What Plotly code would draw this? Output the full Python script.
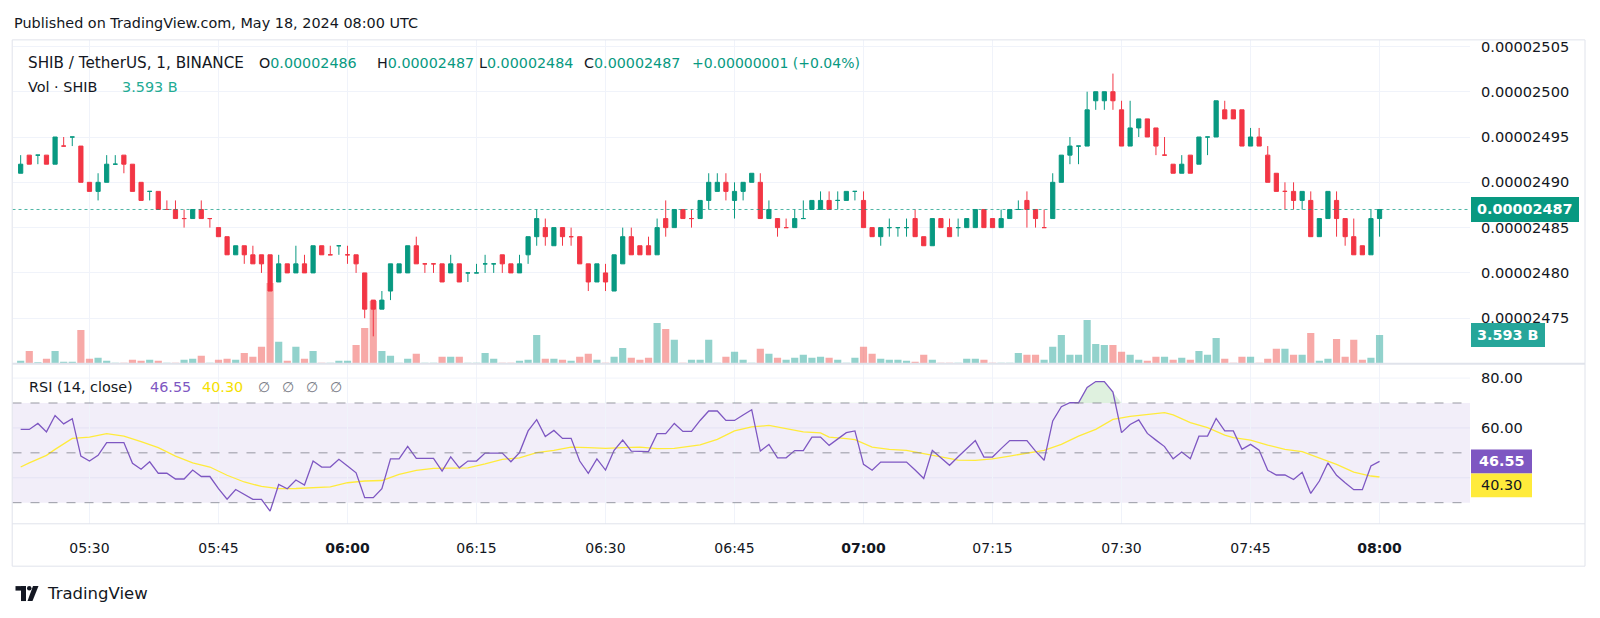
import pandas as pd
import plotly.graph_objects as go

# ---------------- data (prices in units of 1e-8 USDT) ----------------
start_time = "2024-05-18 05:22"

open_ = [2491, 2493, 2493, 2493, 2492, 2494, 2495, 2494, 2490, 2489,
         2490, 2492, 2493, 2492, 2490, 2489, 2489, 2487, 2487, 2486,
         2486, 2487, 2486, 2485, 2484, 2482, 2483, 2482, 2482, 2482,
         2479, 2481, 2480, 2481, 2480, 2483, 2482, 2483, 2482, 2482,
         2480, 2477, 2476, 2478, 2480, 2480, 2483, 2481, 2481, 2481,
         2480, 2481, 2480, 2480, 2481, 2481, 2482, 2481, 2480, 2482,
         2484, 2485, 2483, 2485, 2484, 2484, 2481, 2479, 2480, 2478,
         2481, 2484, 2483, 2483, 2482, 2486, 2485, 2487, 2486, 2486,
         2488, 2489, 2490, 2488, 2489, 2490, 2490, 2486, 2486, 2485,
         2485, 2486, 2487, 2487, 2488, 2488, 2488, 2489, 2488, 2485,
         2484, 2485, 2485, 2485, 2486, 2484, 2483, 2486, 2485, 2485,
         2485, 2485, 2487, 2486, 2485, 2486, 2487, 2488, 2487, 2485,
         2486, 2490, 2493, 2494, 2494, 2499, 2499, 2500, 2498, 2494,
         2496, 2497, 2496, 2493, 2492, 2491, 2493, 2492, 2495, 2495,
         2498, 2498, 2498, 2494, 2495, 2493, 2491, 2489, 2489, 2488,
         2488, 2484, 2486, 2488, 2486, 2484, 2483, 2482, 2486]

high = [2493, 2493, 2493, 2493, 2495, 2495, 2495, 2494, 2490, 2491,
        2493, 2493, 2493, 2492, 2490, 2489, 2489, 2488, 2488, 2487,
        2487, 2488, 2486, 2485, 2484, 2483, 2483, 2483, 2482, 2482,
        2482, 2481, 2483, 2482, 2483, 2483, 2483, 2483, 2483, 2482,
        2480, 2477, 2478, 2481, 2481, 2483, 2484, 2481, 2481, 2481,
        2482, 2481, 2480, 2481, 2482, 2481, 2482, 2481, 2482, 2484,
        2487, 2486, 2485, 2485, 2485, 2484, 2481, 2481, 2481, 2482,
        2485, 2485, 2483, 2484, 2486, 2488, 2487, 2487, 2487, 2488,
        2491, 2491, 2491, 2490, 2490, 2491, 2491, 2488, 2486, 2486,
        2487, 2488, 2488, 2489, 2489, 2489, 2489, 2489, 2489, 2485,
        2485, 2486, 2485, 2486, 2487, 2484, 2486, 2486, 2486, 2486,
        2486, 2487, 2487, 2486, 2487, 2487, 2488, 2489, 2487, 2487,
        2491, 2493, 2495, 2494, 2500, 2500, 2500, 2502, 2499, 2499,
        2497, 2497, 2496, 2495, 2492, 2493, 2493, 2495, 2495, 2499,
        2499, 2498, 2498, 2496, 2496, 2494, 2491, 2490, 2490, 2489,
        2489, 2486, 2489, 2489, 2486, 2486, 2483, 2487, 2487]

low = [2491, 2492, 2492, 2492, 2492, 2494, 2494, 2490, 2489, 2488,
       2490, 2492, 2491, 2489, 2488, 2488, 2487, 2487, 2486, 2485,
       2486, 2486, 2485, 2484, 2482, 2482, 2481, 2481, 2480, 2478,
       2479, 2480, 2480, 2480, 2480, 2482, 2482, 2482, 2481, 2480,
       2475, 2473, 2476, 2477, 2480, 2480, 2481, 2480, 2480, 2479,
       2480, 2479, 2479, 2480, 2480, 2480, 2480, 2480, 2480, 2481,
       2483, 2483, 2483, 2483, 2483, 2481, 2478, 2479, 2478, 2478,
       2481, 2482, 2482, 2482, 2482, 2484, 2485, 2486, 2485, 2486,
       2487, 2489, 2488, 2486, 2488, 2490, 2486, 2486, 2484, 2485,
       2485, 2486, 2487, 2487, 2487, 2487, 2488, 2488, 2485, 2484,
       2483, 2484, 2484, 2484, 2484, 2483, 2483, 2485, 2484, 2484,
       2485, 2485, 2485, 2485, 2485, 2486, 2487, 2485, 2485, 2485,
       2486, 2490, 2492, 2492, 2494, 2498, 2498, 2498, 2494, 2494,
       2495, 2495, 2493, 2493, 2491, 2491, 2491, 2492, 2493, 2495,
       2497, 2497, 2494, 2494, 2494, 2490, 2489, 2487, 2487, 2487,
       2484, 2484, 2486, 2484, 2483, 2482, 2482, 2482, 2484]

close = [2492, 2492, 2493, 2492, 2495, 2494, 2495, 2490, 2489, 2490,
         2492, 2492, 2492, 2489, 2488, 2489, 2487, 2487, 2486, 2486,
         2487, 2486, 2486, 2484, 2482, 2483, 2482, 2481, 2481, 2478,
         2481, 2480, 2481, 2480, 2483, 2482, 2482, 2483, 2482, 2481,
         2476, 2476, 2477, 2481, 2481, 2483, 2481, 2481, 2481, 2479,
         2481, 2479, 2480, 2480, 2481, 2481, 2481, 2480, 2481, 2484,
         2486, 2484, 2485, 2484, 2484, 2481, 2479, 2481, 2479, 2482,
         2484, 2482, 2482, 2482, 2485, 2485, 2487, 2486, 2486, 2488,
         2490, 2490, 2489, 2489, 2490, 2491, 2486, 2487, 2485, 2485,
         2486, 2486, 2488, 2488, 2487, 2488, 2489, 2489, 2485, 2484,
         2485, 2485, 2485, 2485, 2484, 2483, 2486, 2485, 2484, 2485,
         2486, 2487, 2485, 2485, 2486, 2487, 2487, 2487, 2486, 2485,
         2490, 2493, 2494, 2494, 2498, 2500, 2500, 2499, 2494, 2496,
         2497, 2495, 2494, 2493, 2491, 2492, 2491, 2495, 2495, 2499,
         2497, 2497, 2494, 2495, 2494, 2490, 2489, 2489, 2488, 2489,
         2484, 2486, 2489, 2486, 2484, 2482, 2482, 2486, 2487]

# volume in billions of SHIB
volume_b = [0.37, 1.61, 0.19, 0.62, 1.61, 0.25, 0.25, 4.21, 0.62, 0.74,
            0.37, 0.12, 0.12, 0.50, 0.37, 0.50, 0.37, 0.12, 0.12, 0.50,
            0.62, 0.99, 0.12, 0.50, 0.62, 0.50, 1.36, 0.87, 2.11, 10.04,
            2.73, 0.37, 2.11, 0.62, 1.61, 0.12, 0.12, 0.37, 0.37, 2.35,
            4.46, 7.81, 1.61, 0.99, 0.12, 0.62, 1.24, 0.12, 0.12, 0.87,
            0.87, 0.87, 0.12, 0.12, 1.36, 0.62, 0.12, 0.12, 0.37, 0.50,
            3.59, 0.62, 0.62, 0.50, 0.37, 0.87, 1.24, 0.50, 0.12, 0.87,
            1.98, 0.74, 0.50, 0.74, 5.08, 4.34, 2.98, 0.12, 0.50, 0.50,
            2.98, 0.12, 0.87, 1.49, 0.50, 0.12, 1.86, 1.24, 0.74, 0.50,
            0.74, 1.12, 0.74, 0.87, 0.74, 0.50, 0.12, 0.74, 2.11, 1.24,
            0.62, 0.50, 0.50, 0.37, 0.25, 1.12, 0.50, 0.12, 0.12, 0.12,
            0.62, 0.62, 0.50, 0.12, 0.12, 0.12, 1.36, 1.12, 1.12, 0.50,
            2.11, 3.59, 1.12, 1.12, 5.45, 2.48, 2.35, 2.35, 1.49, 1.12,
            0.50, 0.37, 0.87, 0.87, 0.50, 0.74, 0.50, 1.61, 1.12, 3.22,
            0.62, 0.12, 0.87, 0.87, 0.12, 0.62, 1.86, 1.86, 1.12, 1.12,
            3.84, 0.37, 0.62, 3.10, 0.87, 2.98, 0.50, 0.74, 3.593]

rsi = [59.4, 59.4, 61.8, 58.4, 65.0, 61.6, 63.7, 48.7, 46.7, 49.0,
       54.1, 54.1, 54.1, 45.8, 43.4, 46.4, 41.8, 41.8, 39.5, 39.5,
       43.1, 40.5, 40.5, 35.6, 31.4, 35.3, 33.3, 31.3, 31.3, 26.6,
       37.3, 35.6, 39.1, 37.1, 46.7, 44.3, 44.3, 47.4, 44.7, 42.0,
       32.0, 32.0, 35.6, 47.6, 47.6, 52.6, 47.8, 47.8, 47.8, 42.7,
       48.4, 44.0, 46.7, 46.7, 49.9, 49.9, 49.9, 46.4, 50.1, 58.8,
       63.3, 56.5, 59.0, 55.8, 55.8, 46.7, 41.8, 47.6, 43.1, 51.0,
       55.1, 50.7, 50.5, 50.5, 57.7, 57.7, 61.8, 58.6, 58.6, 63.0,
       66.8, 66.8, 63.0, 63.0, 65.2, 67.3, 50.7, 53.4, 48.0, 48.0,
       50.9, 50.9, 56.3, 56.3, 53.0, 55.4, 58.1, 58.8, 45.4, 43.0,
       46.3, 46.3, 46.3, 46.3, 43.1, 39.7, 51.0, 47.8, 45.0, 48.4,
       51.7, 54.9, 48.3, 48.3, 51.7, 54.9, 54.9, 54.9, 50.7, 47.0,
       62.8, 68.5, 70.1, 70.1, 76.2, 78.6, 78.6, 74.4, 58.1, 61.4,
       63.2, 57.8, 55.1, 52.5, 47.6, 50.3, 47.6, 56.7, 56.7, 63.8,
       58.8, 58.8, 51.4, 53.4, 51.1, 43.0, 41.1, 41.1, 39.3, 42.2,
       33.7, 38.7, 46.0, 41.0, 38.0, 35.2, 35.2, 44.7, 46.55]

ma_times = ["05:22", "05:23", "05:25", "05:26", "05:28", "05:30", "05:32", "05:34",
            "05:36", "05:38", "05:40", "05:42", "05:44", "05:46", "05:48", "05:50",
            "05:52", "05:54", "05:58", "06:00", "06:02", "06:04", "06:06", "06:08",
            "06:10", "06:12", "06:14", "06:16", "06:18", "06:20", "06:22", "06:24",
            "06:26", "06:28", "06:30", "06:32", "06:34", "06:36", "06:38", "06:41",
            "06:43", "06:45", "06:47", "06:49", "06:51", "06:53", "06:55", "06:56",
            "06:58", "06:59", "07:01", "07:03", "07:05", "07:07", "07:09", "07:11",
            "07:13", "07:15", "07:17", "07:19", "07:21", "07:23", "07:25", "07:27",
            "07:29", "07:31", "07:33", "07:35", "07:36", "07:38", "07:40", "07:42",
            "07:43", "07:45", "07:47", "07:49", "07:51", "07:53", "07:55", "07:57",
            "07:59", "08:00"]
ma_vals = [44.3, 46.0, 49.0, 51.4, 55.8, 56.3, 57.7, 56.7,
           54.5, 52.1, 48.7, 46.0, 44.3, 41.0, 38.3, 36.5,
           35.6, 35.7, 36.3, 38.0, 38.7, 38.9, 41.4, 43.0,
           43.8, 43.8, 44.0, 45.6, 47.4, 48.0, 50.1, 51.0,
           52.3, 52.1, 51.8, 52.1, 52.3, 51.7, 51.8, 53.2,
           55.4, 58.8, 60.4, 61.0, 59.7, 58.4, 58.0, 56.3,
           55.7, 55.3, 52.3, 51.4, 51.0, 49.8, 48.4, 47.1,
           47.0, 47.6, 48.7, 49.9, 51.0, 53.4, 56.7, 59.4,
           63.4, 64.6, 65.4, 66.1, 65.2, 62.1, 60.1, 57.1,
           56.1, 55.1, 53.1, 51.4, 50.5, 48.0, 45.4, 42.3,
           40.7, 40.30]

time_ticks = ["05:30", "05:45", "06:00", "06:15", "06:30", "06:45",
              "07:00", "07:15", "07:30", "07:45", "08:00"]
price_ticks = ["0.00002475", "0.00002480", "0.00002485", "0.00002490",
               "0.00002495", "0.00002500", "0.00002505"]
rsi_ticks = ["60.00", "80.00"]
rsi_grid = [40, 60, 80]

# ---------------- styling / layout helpers ----------------
W, H = 1600, 618
GREEN = "#089981"
RED = "#F23645"
PURPLE = "#7E57C2"
YELLOW = "#FFEB3B"
TEXT = "#131722"
GRID = "#F0F3FA"
BORDER = "#E0E3EB"
FONT = "DejaVu Sans"

def px(x):
    return x / W

def py(y):
    return 1 - y / H

X0, X1 = 12.5, 1470
PRICE_TOP, PRICE_BOT = 38, 363
RSI_TOP, RSI_BOT = 363, 523.5
PX_PER_TICK = 9.09          # pixels per 1e-8 price step
RSI_PX = 2.5                # pixels per RSI unit

day = "2024-05-18 "
times = pd.date_range(start_time, periods=len(close), freq="min")
p = lambda v: v * 1e-8
O = [p(v) for v in open_]
Hh = [p(v) for v in high]
L = [p(v) for v in low]
C = [p(v) for v in close]

x_left = times[0] - pd.Timedelta(seconds=57)
x_right = times[-1] + pd.Timedelta(seconds=631)
tick_x = [pd.Timestamp(day + t) for t in time_ticks]
tick_txt = [("<b>%s</b>" % t) if t.endswith(":00") else t for t in time_ticks]

price_lo = 2500 - (PRICE_BOT - 90) / PX_PER_TICK
price_hi = 2500 + (90 - PRICE_TOP) / PX_PER_TICK
vol_hi = (PRICE_BOT - PRICE_TOP) * 0.1239
rsi_lo = 80 - (RSI_BOT - 377.3) / RSI_PX
rsi_hi = 80 + (377.3 - RSI_TOP) / RSI_PX

vol_colors = ["rgba(38,166,154,0.5)" if c >= o else "rgba(239,83,80,0.5)"
              for o, c in zip(open_, close)]

fig = go.Figure()

fig.add_trace(go.Bar(x=times, y=volume_b, marker=dict(color=vol_colors, line=dict(width=0)),
                     width=50000, xaxis="x", yaxis="y", showlegend=False, hoverinfo="skip"))

fig.add_trace(go.Candlestick(
    x=times, open=O, high=Hh, low=L, close=C, xaxis="x", yaxis="y2",
    increasing=dict(line=dict(color=GREEN, width=1), fillcolor=GREEN),
    decreasing=dict(line=dict(color=RED, width=1), fillcolor=RED),
    whiskerwidth=0, showlegend=False, hoverinfo="skip"))

# RSI overbought fill
fig.add_trace(go.Scatter(x=times, y=[70] * len(rsi), mode="lines", line=dict(width=0),
                         xaxis="x2", yaxis="y3", showlegend=False, hoverinfo="skip"))
fig.add_trace(go.Scatter(x=times, y=[max(v, 70) for v in rsi], mode="lines", line=dict(width=0),
                         fill="tonexty", fillcolor="rgba(76,175,80,0.18)",
                         xaxis="x2", yaxis="y3", showlegend=False, hoverinfo="skip"))

fig.add_trace(go.Scatter(x=[pd.Timestamp(day + t) for t in ma_times], y=ma_vals, mode="lines",
                         line=dict(color=YELLOW, width=1.3), xaxis="x2", yaxis="y3",
                         showlegend=False, hoverinfo="skip"))
fig.add_trace(go.Scatter(x=times, y=rsi, mode="lines", line=dict(color=PURPLE, width=1.3),
                         xaxis="x2", yaxis="y3", showlegend=False, hoverinfo="skip"))

axis_common = dict(showline=False, zeroline=False, ticks="", fixedrange=True)

fig.update_layout(
    width=W, height=H, autosize=False,
    margin=dict(l=0, r=0, t=0, b=0),
    paper_bgcolor="white", plot_bgcolor="rgba(0,0,0,0)",
    font=dict(family=FONT, color=TEXT, size=13),
    showlegend=False,
    xaxis=dict(domain=[px(X0), px(X1)], anchor="y", type="date", range=[x_left, x_right],
               tickmode="array", tickvals=tick_x, showticklabels=False,
               showgrid=True, gridcolor=GRID, gridwidth=1,
               rangeslider=dict(visible=False), **axis_common),
    xaxis2=dict(domain=[px(X0), px(X1)], anchor="y3", type="date", range=[x_left, x_right],
                matches="x", tickmode="array", tickvals=tick_x, ticktext=tick_txt,
                tickfont=dict(size=14, color=TEXT, family=FONT), ticklabelstandoff=14,
                showgrid=True, gridcolor=GRID, gridwidth=1, **axis_common),
    yaxis=dict(domain=[py(PRICE_BOT), py(PRICE_TOP)], anchor="x", range=[0, vol_hi],
               visible=False, showgrid=False, **axis_common),
    yaxis2=dict(overlaying="y", anchor="x", side="right", range=[p(price_lo), p(price_hi)],
                tickmode="array", tickvals=[float(s) for s in price_ticks], ticktext=price_ticks,
                tickfont=dict(size=14.6, color=TEXT, family=FONT), ticklabelstandoff=10,
                showgrid=True, gridcolor=GRID, gridwidth=1, **axis_common),
    yaxis3=dict(domain=[py(RSI_BOT), py(RSI_TOP)], anchor="x2", side="right",
                range=[rsi_lo, rsi_hi], tickmode="array",
                tickvals=[float(s) for s in rsi_ticks], ticktext=rsi_ticks,
                tickfont=dict(size=14.6, color=TEXT, family=FONT), ticklabelstandoff=10,
                showgrid=False, **axis_common),
)

shapes = []
# RSI grid
for gv in rsi_grid:
    shapes.append(dict(type="line", xref="paper", yref="y3", x0=px(X0), x1=px(X1), y0=gv, y1=gv,
                       line=dict(color=GRID, width=1), layer="below"))
# RSI band and levels
shapes.append(dict(type="rect", xref="paper", yref="y3", x0=px(X0), x1=px(X1), y0=30, y1=70,
                   fillcolor="rgba(126,87,194,0.10)", line=dict(width=0), layer="below"))
for lvl in (70, 50, 30):
    shapes.append(dict(type="line", xref="paper", yref="y3", x0=px(X0), x1=px(X1), y0=lvl, y1=lvl,
                       line=dict(color="rgba(120,123,134,0.75)", width=1, dash="dash")))
# last price dotted line
shapes.append(dict(type="line", xref="paper", yref="y2", x0=px(X0), x1=px(X1),
                   y0=C[-1], y1=C[-1], line=dict(color=GREEN, width=1, dash="dot"), opacity=0.7))
# frame and pane separators
shapes.append(dict(type="rect", xref="paper", yref="paper", x0=px(12.2), x1=px(1585),
                   y0=py(566), y1=py(38), line=dict(color=BORDER, width=1)))
shapes.append(dict(type="line", xref="paper", yref="paper", x0=px(12.2), x1=px(1585),
                   y0=py(RSI_TOP), y1=py(RSI_TOP), line=dict(color=BORDER, width=2)))
shapes.append(dict(type="line", xref="paper", yref="paper", x0=px(12.2), x1=px(1585),
                   y0=py(RSI_BOT), y1=py(RSI_BOT), line=dict(color=BORDER, width=1)))

# right-side value labels
half_price = 12.5 / PX_PER_TICK
shapes.append(dict(type="rect", xref="paper", yref="y2", x0=px(1471), x1=px(1579),
                   y0=p(close[-1] - half_price), y1=p(close[-1] + half_price),
                   fillcolor=GREEN, line=dict(width=0), layer="above"))
half_vol = 12 * 0.1239
shapes.append(dict(type="rect", xref="paper", yref="y", x0=px(1471), x1=px(1545),
                   y0=volume_b[-1] - half_vol, y1=volume_b[-1] + half_vol,
                   fillcolor="#26A69A", line=dict(width=0), layer="above"))
half_rsi = 12 / RSI_PX
shapes.append(dict(type="rect", xref="paper", yref="y3", x0=px(1471), x1=px(1532),
                   y0=rsi[-1] - half_rsi, y1=rsi[-1] + half_rsi,
                   fillcolor=PURPLE, line=dict(width=0), layer="above"))
ma_label_center = rsi[-1] - 2 * half_rsi
shapes.append(dict(type="rect", xref="paper", yref="y3", x0=px(1471), x1=px(1532),
                   y0=ma_label_center - half_rsi, y1=ma_label_center + half_rsi,
                   fillcolor=YELLOW, line=dict(width=0), layer="above"))

# TradingView logo
shapes.append(dict(type="rect", xref="paper", yref="paper", x0=px(15.5), x1=px(26),
                   y0=py(590.5), y1=py(586), fillcolor=TEXT, line=dict(width=0)))
shapes.append(dict(type="rect", xref="paper", yref="paper", x0=px(21), x1=px(26),
                   y0=py(601), y1=py(586), fillcolor=TEXT, line=dict(width=0)))
shapes.append(dict(type="circle", xref="paper", yref="paper", x0=px(27), x1=px(31.5),
                   y0=py(590.5), y1=py(586), fillcolor=TEXT, line=dict(width=0)))
shapes.append(dict(type="path", xref="paper", yref="paper",
                   path="M %f %f L %f %f L %f %f L %f %f Z" % (px(33), py(586), px(38.5), py(586),
                                                               px(32.5), py(601), px(27.5), py(601)),
                   fillcolor=TEXT, line=dict(width=0)))
fig.update_layout(shapes=shapes)

def ann(x, y, text, size=14, color=TEXT, anchor="left", yref="paper", xref="paper", bold=False):
    return dict(x=x, y=y, xref=xref, yref=yref, text=("<b>%s</b>" % text) if bold else text,
                showarrow=False, xanchor=anchor, yanchor="middle",
                font=dict(size=size, color=color, family=FONT))

fmt = lambda v: "%.8f" % p(v)
chg = close[-1] - close[-2]
chg_pct = chg / close[-2] * 100
g = lambda s: "<span style='color:%s'>%s</span>" % (GREEN, s)

annotations = [
    ann(px(12), py(21), "Published on TradingView.com, May 18, 2024 08:00 UTC", size=14.4),
    ann(px(25.5), py(61), "SHIB / TetherUS, 1, BINANCE", size=15.2),
    ann(px(257), py(61), "O" + g(fmt(open_[-1])), size=14.3),
    ann(px(375), py(61), "H" + g(fmt(high[-1])), size=14.3),
    ann(px(477), py(61), "L" + g(fmt(low[-1])), size=14.3),
    ann(px(582), py(61), "C" + g(fmt(close[-1])), size=14.3),
    ann(px(690), py(61), g("%+.8f (%+.2f%%)" % (p(chg), chg_pct)), size=14),
    ann(px(25.5), py(85), "Vol · SHIB", size=14.4),
    ann(px(120), py(85), "%.3f B" % volume_b[-1], size=14.4, color="#22AB94"),
    ann(px(26.5), py(386), "RSI (14, close)", size=14.4),
    ann(px(148), py(386), "%.2f" % rsi[-1], size=14.4, color=PURPLE),
    ann(px(200), py(386), "%.2f" % ma_vals[-1], size=14.4, color="#F5E000"),
    ann(px(45), py(593), "TradingView", size=16.5),
    # right-side labels
    ann(px(1525), p(close[-1]), fmt(close[-1]), size=14.4, color="white", anchor="center",
        yref="y2", bold=True),
    ann(px(1508), volume_b[-1], "%.3f B" % volume_b[-1], size=14.4, color="white", anchor="center",
        yref="y", bold=True),
    ann(px(1501.5), rsi[-1], "%.2f" % rsi[-1], size=14.4, color="white", anchor="center",
        yref="y3", bold=True),
    ann(px(1501.5), ma_label_center, "%.2f" % ma_vals[-1], size=14.4, color=TEXT, anchor="center",
        yref="y3"),
]
for i, xx in enumerate((256, 280, 304, 328)):
    annotations.append(ann(px(xx), py(386), "∅", size=14, color="#787B86"))
fig.update_layout(annotations=annotations)

fig.write_html("out.html")
